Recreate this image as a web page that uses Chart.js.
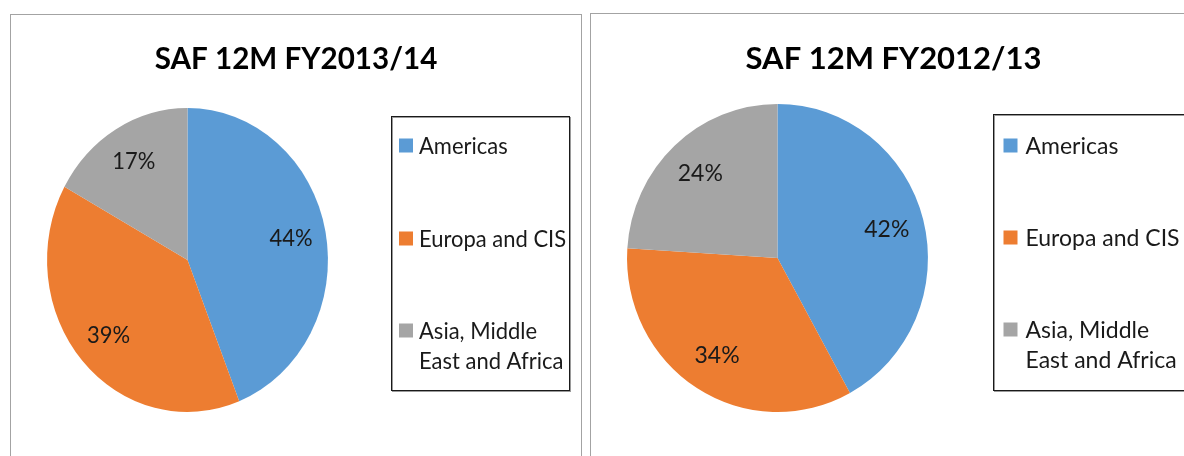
<!DOCTYPE html>
<html><head><meta charset="utf-8">
<script src="https://cdn.jsdelivr.net/npm/chart.js@4.4.1/dist/chart.umd.min.js"></script>
<style>
html,body{margin:0;padding:0;background:#fff;width:1184px;height:456px;overflow:hidden;}
canvas{position:absolute;}
#c1{left:10px;top:14px;}
#c2{left:590px;top:13px;}
</style></head><body>
<canvas id="c1" width="572" height="442"></canvas>
<canvas id="c2" width="594" height="443"></canvas>
<script>
// ---- data ----
const categories = ['Americas', 'Europa and CIS', 'Asia, Middle East and Africa'];
const valuesFY1314 = [44, 39, 17];
const valuesFY1213 = [42, 34, 24];
const titleFY1314 = 'SAF 12M FY2013/14';
const titleFY1213 = 'SAF 12M FY2012/13';
const sliceColors = ['#5B9BD5', '#ED7D31', '#A5A5A5'];

function wrapWords(ctx, text, maxW) {
  const words = text.split(' ');
  const lines = [];
  let cur = '';
  for (const w of words) {
    const t = cur ? cur + ' ' + w : w;
    if (cur && ctx.measureText(t).width > maxW) { lines.push(cur); cur = w; }
    else cur = t;
  }
  if (cur) lines.push(cur);
  return lines;
}

function drawScaledText(ctx, text, x, y, sx) {
  ctx.save();
  ctx.translate(x, y);
  ctx.scale(sx, 1);
  ctx.fillText(text, 0, 0);
  ctx.restore();
}

const framePlugin = {
  id: 'frame',
  beforeDraw(chart, args, o) {
    const ctx = chart.ctx;
    ctx.save();
    ctx.fillStyle = '#fff';
    ctx.fillRect(0, 0, chart.width, chart.height);
    ctx.strokeStyle = '#a3a3a3';
    ctx.lineWidth = 1;
    ctx.strokeRect(0.5, 0.5, o.boxWidth - 1, chart.height + 20);
    // title
    ctx.fillStyle = '#000';
    ctx.font = 'bold 31px Lato';
    ctx.textAlign = 'center';
    ctx.textBaseline = 'alphabetic';
    drawScaledText(ctx, o.title, o.titleX, o.titleY, o.textSx);
    // legend box
    const L = o.legend;
    ctx.strokeStyle = '#9a9a9a';
    ctx.strokeRect(L.x + 1, L.y + 1, L.w, L.h);
    ctx.strokeStyle = '#1a1a1a';
    ctx.strokeRect(L.x, L.y, L.w, L.h);
    ctx.font = '23px Lato';
    ctx.textAlign = 'left';
    const labels = chart.data.labels;
    const bgs = chart.data.datasets[0].backgroundColor;
    labels.forEach((lab, i) => {
      const base = L.y + L.itemBase[i];
      ctx.fillStyle = bgs[i];
      ctx.fillRect(L.x + L.markerDX, base - 15, 14, 14);
      ctx.fillStyle = '#1a1a1a';
      const lines = wrapWords(ctx, lab, L.wrapW / o.textSx);
      lines.forEach((ln, j) => {
        drawScaledText(ctx, ln, L.x + L.textDX, base + j * 30, o.textSx);
      });
    });
    ctx.restore();
  },
  beforeDatasetsDraw(chart, args, o) {
    const arc = chart.getDatasetMeta(0).data[0];
    const ctx = chart.ctx;
    ctx.save();
    ctx.translate(arc.x, arc.y);
    ctx.scale(o.pieSx, 1);
    ctx.translate(-arc.x, -arc.y);
  },
  afterDatasetsDraw(chart, args, o) {
    const ctx = chart.ctx;
    ctx.restore();
    ctx.save();
    ctx.font = '23px Lato';
    ctx.fillStyle = '#1a1a1a';
    ctx.textAlign = 'center';
    ctx.textBaseline = 'middle';
    const ds = chart.data.datasets[0];
    chart.getDatasetMeta(0).data.forEach((a, i) => {
      const p = a.getProps(['x', 'y', 'startAngle', 'endAngle', 'outerRadius'], true);
      const mid = (p.startAngle + p.endAngle) / 2;
      const r = p.outerRadius * 0.75;
      const lx = p.x + Math.cos(mid) * r * o.pieSx;
      const ly = p.y + Math.sin(mid) * r;
      drawScaledText(ctx, ds.data[i] + '%', lx, ly, o.textSx);
    });
    ctx.restore();
  }
};

function makePie(id, values, title, pad, frameOpts) {
  return new Chart(document.getElementById(id), {
    type: 'pie',
    data: {
      labels: categories,
      datasets: [{
        data: values,
        backgroundColor: sliceColors,
        borderWidth: 0
      }]
    },
    options: {
      responsive: false,
      animation: false,
      devicePixelRatio: 1,
      layout: { padding: pad },
      plugins: {
        legend: { display: false },
        title: { display: false },
        tooltip: { enabled: false },
        frame: Object.assign({ title: title }, frameOpts)
      }
    },
    plugins: [framePlugin]
  });
}

makePie('c1', valuesFY1314, titleFY1314,
  { left: 25.5, right: 242.5, top: 94, bottom: 44 },
  { boxWidth: 572, titleX: 286, titleY: 55, textSx: 0.955, pieSx: 0.924,
    legend: { x: 381.5, y: 102.5, w: 178, h: 274, itemBase: [37, 130, 222],
              markerDX: 7.5, textDX: 27.5, wrapW: 150 } });

makePie('c2', valuesFY1213, titleFY1213,
  { left: 33.5, right: 252.5, top: 91, bottom: 44 },
  { boxWidth: 607, titleX: 303.5, titleY: 56, textSx: 1, pieSx: 0.977,
    legend: { x: 403.5, y: 101.5, w: 220, h: 276, itemBase: [39, 131, 223],
              markerDX: 10, textDX: 32, wrapW: 160 } });
</script>
</body></html>
